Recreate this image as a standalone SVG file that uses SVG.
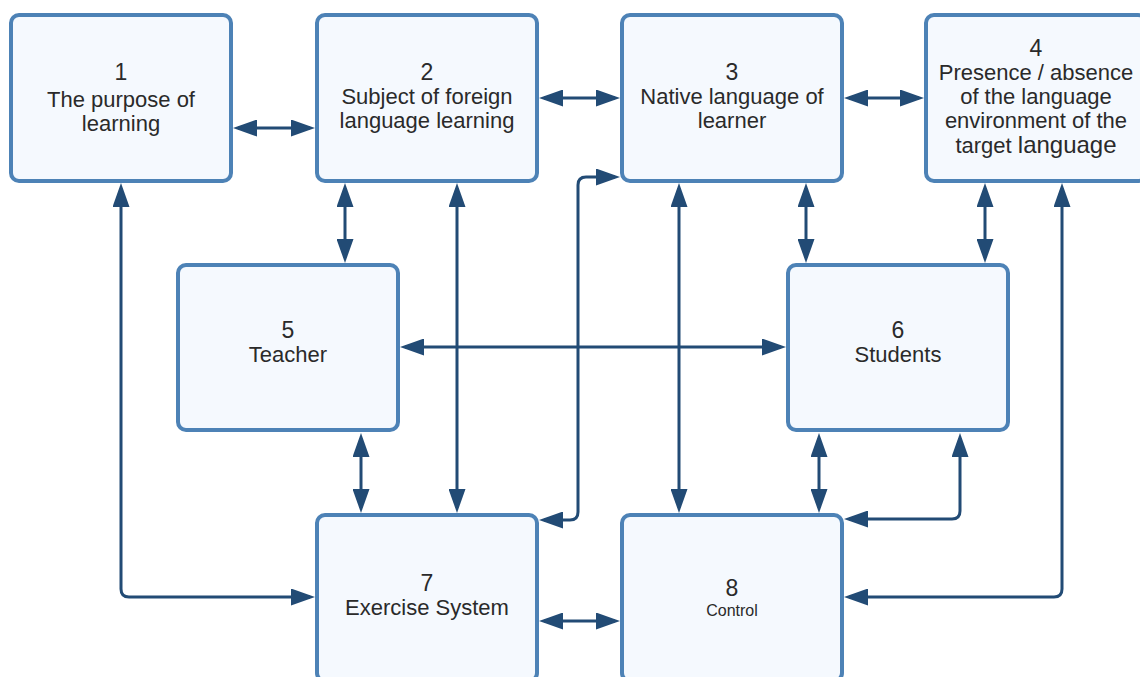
<svg xmlns="http://www.w3.org/2000/svg" width="1140" height="677" viewBox="0 0 1140 677">
  <style>
    .box { fill: #f5f9fe; stroke: #4d82b6; stroke-width: 4; }
    .num { font-family: "Liberation Sans", Arial, sans-serif; font-size: 23px; fill: #2a2a2a; text-anchor: middle; }
    .lbl { font-family: "Liberation Sans", Arial, sans-serif; font-size: 22px; fill: #2a2a2a; text-anchor: middle; }
    .small { font-family: "Liberation Sans", Arial, sans-serif; font-size: 16px; fill: #2a2a2a; text-anchor: middle; }
    .link { fill: none; stroke: #224b75; stroke-width: 3; marker-start: url(#ah); marker-end: url(#ah); }
  </style>
  <defs>
    <marker id="ah" markerUnits="userSpaceOnUse" viewBox="0 0 24 17" markerWidth="24" markerHeight="17" refX="19" refY="8.5" orient="auto-start-reverse">
      <path d="M0,0 L24,8.5 L0,17 z" fill="#224b75"/>
    </marker>
  </defs>

  <rect width="1140" height="677" fill="#ffffff"/>

  <!-- nodes -->
  <g id="node1">
    <rect class="box" x="11" y="15" width="220" height="166" rx="8"/>
    <text class="num" x="121" y="80">1</text>
    <text class="lbl" x="121" y="107">The purpose of</text>
    <text class="lbl" x="121" y="131">learning</text>
  </g>
  <g id="node2">
    <rect class="box" x="317" y="15" width="220" height="166" rx="8"/>
    <text class="num" x="427" y="80">2</text>
    <text class="lbl" x="427" y="104">Subject of foreign</text>
    <text class="lbl" x="427" y="128">language learning</text>
  </g>
  <g id="node3">
    <rect class="box" x="622" y="15" width="220" height="166" rx="8"/>
    <text class="num" x="732" y="80">3</text>
    <text class="lbl" x="732" y="104">Native language of</text>
    <text class="lbl" x="732" y="128">learner</text>
  </g>
  <g id="node4">
    <rect class="box" x="926" y="15" width="220" height="166" rx="8"/>
    <text class="num" x="1036" y="56">4</text>
    <text class="lbl" x="1036" y="80">Presence / absence</text>
    <text class="lbl" x="1036" y="104">of the language</text>
    <text class="lbl" x="1036" y="128">environment of the</text>
    <text class="lbl" x="1036" y="153">target <tspan font-size="24">language</tspan></text>
  </g>
  <g id="node5">
    <rect class="box" x="178" y="265" width="220" height="165" rx="8"/>
    <text class="num" x="288" y="338">5</text>
    <text class="lbl" x="288" y="362">Teacher</text>
  </g>
  <g id="node6">
    <rect class="box" x="788" y="265" width="220" height="165" rx="8"/>
    <text class="num" x="898" y="338">6</text>
    <text class="lbl" x="898" y="362">Students</text>
  </g>
  <g id="node7">
    <rect class="box" x="317" y="515" width="220" height="166" rx="8"/>
    <text class="num" x="427" y="591">7</text>
    <text class="lbl" x="427" y="615">Exercise System</text>
  </g>
  <g id="node8">
    <rect class="box" x="622" y="515" width="220" height="166" rx="8"/>
    <text class="num" x="732" y="596">8</text>
    <text class="small" x="732" y="616">Control</text>
  </g>

  <!-- connectors (all two-way) -->
  <g id="connectors">
    <path class="link" d="M238,128 H310"/>
    <path class="link" d="M544,98 H615"/>
    <path class="link" d="M849,98 H919"/>
    <path class="link" d="M345,188 V258"/>
    <path class="link" d="M457,188 V508"/>
    <path class="link" d="M121,188 V589 Q121,597 129,597 H310"/>
    <path class="link" d="M544,520 H570 Q578,520 578,512 V185 Q578,177 586,177 H615"/>
    <path class="link" d="M679,188 V508"/>
    <path class="link" d="M806,188 V258"/>
    <path class="link" d="M985,188 V258"/>
    <path class="link" d="M1062,188 V589 Q1062,597 1054,597 H849"/>
    <path class="link" d="M405,347 H781"/>
    <path class="link" d="M361,438 V508"/>
    <path class="link" d="M819,438 V508"/>
    <path class="link" d="M960,438 V511 Q960,519 952,519 H849"/>
    <path class="link" d="M544,621 H615"/>
  </g>
</svg>
